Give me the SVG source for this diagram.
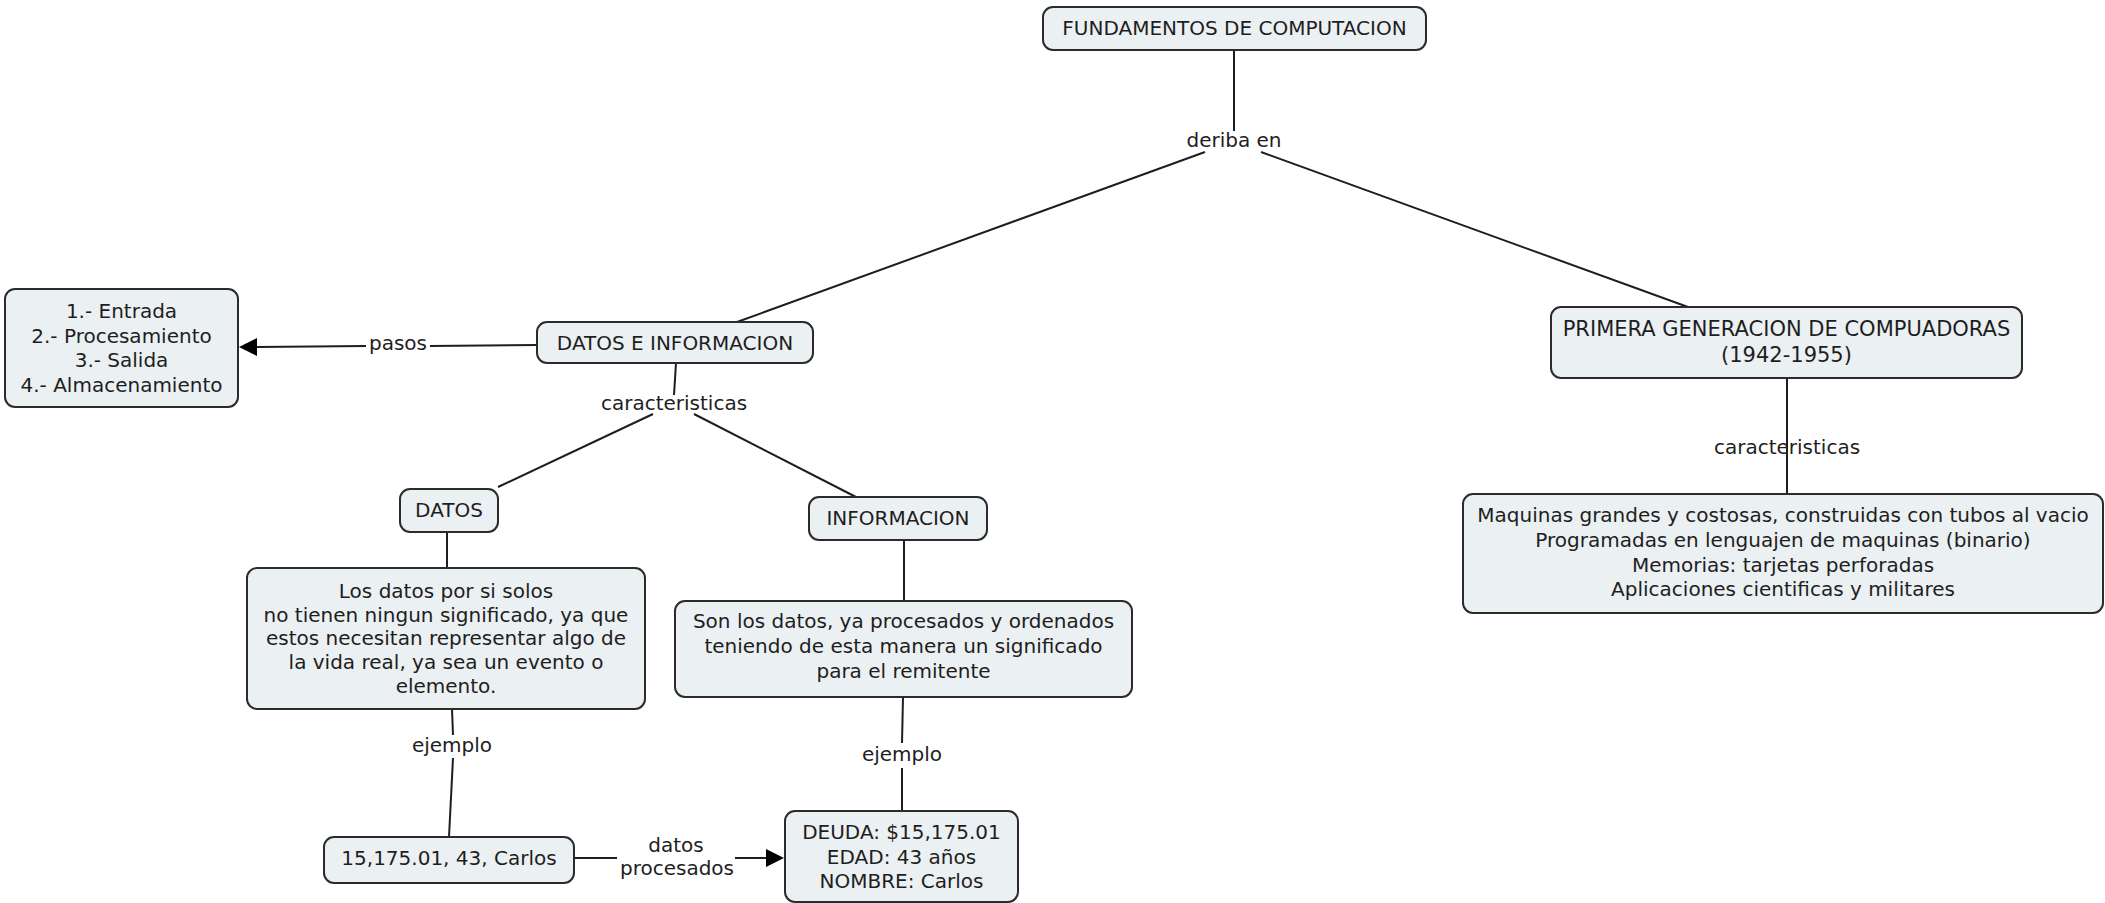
<svg xmlns="http://www.w3.org/2000/svg" width="2105" height="903" viewBox="0 0 2105 903">
<style>
.box{fill:#ebf0f3;stroke:#2b2b2b;stroke-width:2}
.t{font-family:"DejaVu Sans",Verdana,sans-serif;font-size:20px;fill:#1e1e1e;text-anchor:middle}
.c{fill:none;stroke:#1e1e1e;stroke-width:2}
</style>
<rect width="2105" height="903" fill="#fff"/>
<g id="connectors">
<line class="c" x1="1234" y1="50" x2="1234" y2="131"/>
<line class="c" x1="1205" y1="152" x2="737" y2="322"/>
<line class="c" x1="1261" y1="152" x2="1688" y2="307"/>
<line class="c" x1="537" y1="345" x2="430" y2="346"/>
<line class="c" x1="366" y1="346" x2="257" y2="347"/>
<path d="M257,338 L239,347 L257,356 z" fill="#000"/>
<line class="c" x1="676" y1="363" x2="674" y2="395"/>
<line class="c" x1="653" y1="414" x2="498" y2="487"/>
<line class="c" x1="694" y1="414" x2="856" y2="497"/>
<line class="c" x1="447" y1="532" x2="447" y2="568"/>
<line class="c" x1="904" y1="540" x2="904" y2="601"/>
<line class="c" x1="452" y1="709" x2="453" y2="735"/>
<line class="c" x1="453" y1="758" x2="449" y2="837"/>
<line class="c" x1="903" y1="697" x2="902" y2="743"/>
<line class="c" x1="902" y1="768" x2="902" y2="811"/>
<line class="c" x1="574" y1="858" x2="617" y2="858"/>
<line class="c" x1="735" y1="858" x2="766" y2="858"/>
<path d="M766,849 L784,858 L766,867 z" fill="#000"/>
<line class="c" x1="1787" y1="378" x2="1787" y2="494"/>
</g>
<g id="labels">
<text class="t" x="1234" y="147">deriba en</text>
<text class="t" x="398" y="350">pasos</text>
<text class="t" x="674" y="410">caracteristicas</text>
<text class="t" x="1787" y="454">caracteristicas</text>
<text class="t" x="452" y="752">ejemplo</text>
<text class="t" x="902" y="761">ejemplo</text>
<text class="t" x="676" y="852">datos</text>
<text class="t" x="677" y="875">procesados</text>
</g>
<g id="n-fundamentos">
<rect class="box" x="1043" y="7" width="383" height="43" rx="10"/>
<text class="t" x="1234.5" y="35">FUNDAMENTOS DE COMPUTACION</text>
</g>
<g id="n-datos-info">
<rect class="box" x="537" y="322" width="276" height="41" rx="10"/>
<text class="t" x="675" y="350">DATOS E INFORMACION</text>
</g>
<g id="n-pasos">
<rect class="box" x="5" y="289" width="233" height="118" rx="10"/>
<text class="t" x="121.5" y="318">1.- Entrada</text>
<text class="t" x="121.5" y="343">2.- Procesamiento</text>
<text class="t" x="121.5" y="367">3.- Salida</text>
<text class="t" x="121.5" y="392">4.- Almacenamiento</text>
</g>
<g id="n-primera">
<rect class="box" x="1551" y="307" width="471" height="71" rx="10"/>
<text class="t" x="1786.5" y="336" style="font-size:21px">PRIMERA GENERACION DE COMPUADORAS</text>
<text class="t" x="1786.5" y="362" style="font-size:21px">(1942-1955)</text>
</g>
<g id="n-primera-desc">
<rect class="box" x="1463" y="494" width="640" height="119" rx="10"/>
<text class="t" x="1783" y="522">Maquinas grandes y costosas, construidas con tubos al vacio</text>
<text class="t" x="1783" y="547">Programadas en lenguajen de maquinas (binario)</text>
<text class="t" x="1783" y="572">Memorias: tarjetas perforadas</text>
<text class="t" x="1783" y="596">Aplicaciones cientificas y militares</text>
</g>
<g id="n-datos">
<rect class="box" x="400" y="489" width="98" height="43" rx="10"/>
<text class="t" x="449" y="517">DATOS</text>
</g>
<g id="n-informacion">
<rect class="box" x="809" y="497" width="178" height="43" rx="10"/>
<text class="t" x="898" y="525">INFORMACION</text>
</g>
<g id="n-datos-desc">
<rect class="box" x="247" y="568" width="398" height="141" rx="10"/>
<text class="t" x="446" y="598">Los datos por si solos</text>
<text class="t" x="446" y="622">no tienen ningun significado, ya que</text>
<text class="t" x="446" y="645">estos necesitan representar algo de</text>
<text class="t" x="446" y="669">la vida real, ya sea un evento o</text>
<text class="t" x="446" y="693">elemento.</text>
</g>
<g id="n-info-desc">
<rect class="box" x="675" y="601" width="457" height="96" rx="10"/>
<text class="t" x="903.5" y="628">Son los datos, ya procesados y ordenados</text>
<text class="t" x="903.5" y="653">teniendo de esta manera un significado</text>
<text class="t" x="903.5" y="678">para el remitente</text>
</g>
<g id="n-ejemplo-datos">
<rect class="box" x="324" y="837" width="250" height="46" rx="10"/>
<text class="t" x="449" y="865">15,175.01, 43, Carlos</text>
</g>
<g id="n-ejemplo-info">
<rect class="box" x="785" y="811" width="233" height="91" rx="10"/>
<text class="t" x="901.5" y="839">DEUDA: $15,175.01</text>
<text class="t" x="901.5" y="864">EDAD: 43 años</text>
<text class="t" x="901.5" y="888">NOMBRE: Carlos</text>
</g>
</svg>
